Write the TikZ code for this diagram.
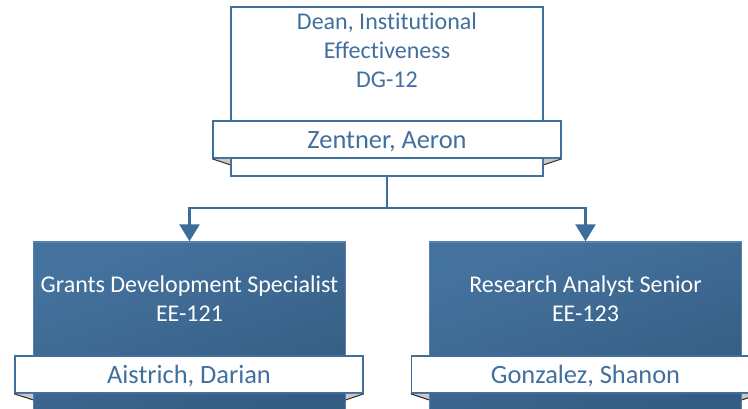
\documentclass[tikz,border=0pt]{standalone}
\usepackage{fontspec}
\setmainfont[Ligatures=CommonOff]{Carlito}
\usetikzlibrary{arrows.meta}

\definecolor{chartblue}{HTML}{41709E}
\definecolor{linkblue}{HTML}{3D6D9B}
\definecolor{boxtop}{HTML}{45739F}
\definecolor{boxbottom}{HTML}{355C82}
\definecolor{boxedge}{HTML}{5882AC}
\definecolor{foldgray}{HTML}{C8C8C8}

\tikzset{
	posbox/.style={draw=chartblue, line width=1.2pt, fill=white, minimum width=234pt, minimum height=126.75pt, inner sep=0pt},
	unitbox/.style={draw=boxedge, line width=1pt, top color=boxtop, bottom color=boxbottom, shading angle=20, minimum width=234pt, minimum height=126.75pt, inner sep=0pt},
	namebanner/.style={draw=chartblue, line width=1.2pt, fill=white, text=chartblue, minimum width=261pt, minimum height=27.75pt, inner sep=0pt, text height=13.2pt, text depth=0pt, font=\fontsize{19.8}{22}\selectfont},
	titletext/.style={align=center, font=\fontsize{18}{21.75}\selectfont},
	fold/.style={fill=foldgray},
	foldline/.style={draw=black!80, line width=0.8pt},
	link/.style={draw=linkblue, line width=1.9pt}
}

\begin{document}
\begin{tikzpicture}[x=0.75pt, y=-0.75pt]
		\useasboundingbox (0,0) rectangle (748,409);
		\clip (0,0) rectangle (748,409);

		% top position
		\node[posbox] (dean) at (387,91.5){};
		\node[titletext, text=chartblue] at (387,50)(deantitle){Dean, Institutional\\Effectiveness\\DG-12};
		\node[namebanner] at (387,139.5)(deanname){Zentner, Aeron};
		\fill[fold] (deanname.south west)--(dean.west |- deanname.south)--++(0,6)--cycle;
		\fill[fold] (deanname.south east)--(dean.east |- deanname.south)--++(0,6)--cycle;
		\draw[foldline] (deanname.south west)--([yshift=-4.5pt]dean.west |- deanname.south);
		\draw[foldline] (deanname.south east)--([yshift=-4.5pt]dean.east |- deanname.south);

		% reports
		\node[unitbox] (gds) at (189.5,326.5){};
		\node[titletext, text=white] at (189.5,299)(gdstitle){Grants Development Specialist\\EE-121};
		\node[namebanner] at (189,374.5)(gdsname){Aistrich, Darian};
		\fill[fold] (gdsname.south west)--(gds.west |- gdsname.south)--++(0,6)--cycle;
		\fill[fold] (gdsname.south east)--(gds.east |- gdsname.south)--++(0,6)--cycle;
		\draw[foldline] (gdsname.south west)--([yshift=-4.5pt]gds.west |- gdsname.south);
		\draw[foldline] (gdsname.south east)--([yshift=-4.5pt]gds.east |- gdsname.south);

		\node[unitbox] (ras) at (585.5,326.5){};
		\node[titletext, text=white] at (585.5,299)(rastitle){Research Analyst Senior\\EE-123};
		\node[namebanner] at (585.5,374.5)(rasname){Gonzalez, Shanon};
		\fill[fold] (rasname.south west)--(ras.west |- rasname.south)--++(0,6)--cycle;
		\fill[fold] (rasname.south east)--(ras.east |- rasname.south)--++(0,6)--cycle;
		\draw[foldline] (rasname.south west)--([yshift=-4.5pt]ras.west |- rasname.south);
		\draw[foldline] (rasname.south east)--([yshift=-4.5pt]ras.east |- rasname.south);

		% connectors
		\coordinate (bus) at (387,208);
		\draw[link] (dean.south)--(bus);
		\draw[link, -{Triangle[width=15pt, length=12.75pt]}] (bus)-|(gds.north);
		\draw[link, -{Triangle[width=15pt, length=12.75pt]}] (bus)-|(ras.north);
	\end{tikzpicture}
\end{document}
